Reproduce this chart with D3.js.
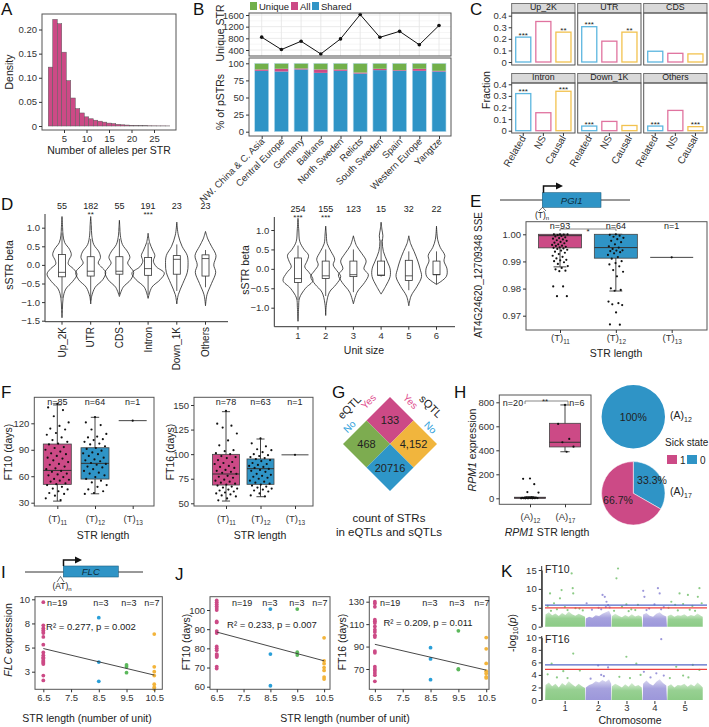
<!DOCTYPE html>
<html>
<head>
<meta charset="utf-8">
<script src="https://cdn.jsdelivr.net/npm/d3@7"></script>
<style>
  body { margin: 0; background: #fff; }
  svg { font-family: "Liberation Sans", Arial, sans-serif; }
</style>
</head>
<body>
<svg id="fig" width="709" height="727"></svg>
<script>
// ---------------- data ----------------
// A: number of alleles per STR
var alleleBins = [2,3,4,5,6,7,8,9,10,11,12,13,14,15,16,17,18,19,20,21,22,23,24,25,26,27,28];
var alleleDensity = [0.122,0.221,0.212,0.153,0.094,0.058,0.036,0.027,0.019,0.015,0.012,0.010,0.008,0.006,0.005,0.0035,0.0025,0.002,0.0015,0.001,0.0008,0.0006,0.0005,0.0004,0.0003,0.0003,0.0002];

// B: pSTRs per population
var regions = ["NW. China & C. Asia","Central Europe","Germany","Balkans","North Sweden","Relicts","South Sweden","Spain","Western Europe","Yangtze"];
var uniqueSTR = [840,415,700,265,780,1615,835,1040,580,1240];
var pctShared = [89,88,91,86,89,85,90,89,89,88];
var pctAll    = [2,4,1.5,5,2,1.5,2,1,3,1];
var pctUnique = [9,8,7.5,9,9,13.5,8,10,8,11];

// C: fraction of STRs per genomic feature
var features = ["Up_2K","UTR","CDS","Intron","Down_1K","Others"];
var strClasses = ["Related","NS","Causal"];
var fracRelated = [0.215,0.305,0.093,0.32,0.04,0.04];
var fracNS      = [0.35,0.18,0.075,0.155,0.08,0.175];
var fracCausal  = [0.258,0.258,0.07,0.34,0.045,0.035];
var starsRelated = ["***","***","","***","***","***"];
var starsCausal  = ["**","**","","***","","***"];

// D: sSTR beta violins (profile = [beta, relative half width])
var featCounts = ["55","182","55","191","23","23"];
var featStars  = ["","**","","***","",""];
var featViolins = [
  [[-1.42,0],[-1.2,0.03],[-0.9,0.07],[-0.65,0.25],[-0.45,0.7],[-0.25,1.0],[-0.1,0.75],[0.02,0.42],[0.12,0.45],[0.27,0.62],[0.42,0.5],[0.6,0.18],[0.8,0.07],[1.0,0.04],[1.3,0]],
  [[-1.05,0],[-0.85,0.06],[-0.6,0.3],[-0.4,0.8],[-0.2,1.0],[-0.05,0.7],[0.05,0.5],[0.2,0.65],[0.35,0.55],[0.55,0.2],[0.8,0.07],[1.05,0.04],[1.3,0]],
  [[-0.85,0],[-0.6,0.25],[-0.4,0.75],[-0.2,0.95],[-0.05,0.7],[0.05,0.55],[0.2,0.7],[0.35,0.55],[0.55,0.2],[0.8,0.06],[1.0,0.03],[1.2,0]],
  [[-0.9,0],[-0.6,0.25],[-0.4,0.8],[-0.22,1.08],[-0.05,0.55],[0.1,0.35],[0.25,0.45],[0.4,0.3],[0.6,0.1],[0.85,0]],
  [[-1.05,0],[-0.8,0.1],[-0.5,0.4],[-0.2,0.7],[0.0,0.75],[0.25,0.7],[0.5,0.35],[0.8,0.1],[1.15,0]],
  [[-1.1,0],[-0.8,0.1],[-0.5,0.4],[-0.2,0.68],[0.0,0.55],[0.25,0.7],[0.5,0.4],[0.7,0.15],[0.9,0]]
];
var featBoxes = [[-0.9,-0.32,-0.2,0.28,0.85],[-0.95,-0.3,-0.17,0.22,0.7],[-0.8,-0.25,-0.17,0.22,0.7],[-0.8,-0.28,-0.1,0.2,0.6],[-0.7,-0.25,0.15,0.25,0.55],[-0.6,-0.3,0.17,0.27,0.4]];

var unitSizes = ["1","2","3","4","5","6"];
var unitCounts = ["254","155","123","15","32","22"];
var unitStars  = ["***","***","","","",""];
var unitViolins = [
  [[-1.35,0],[-1.0,0.04],[-0.75,0.1],[-0.5,0.5],[-0.3,1.0],[-0.1,0.75],[0.05,0.45],[0.2,0.6],[0.35,0.7],[0.5,0.4],[0.7,0.12],[1.0,0.05],[1.3,0]],
  [[-1.2,0],[-0.9,0.05],[-0.6,0.25],[-0.4,0.7],[-0.2,1.0],[-0.05,0.75],[0.1,0.5],[0.25,0.6],[0.45,0.35],[0.65,0.1],[0.9,0.04],[1.1,0]],
  [[-0.9,0],[-0.6,0.25],[-0.35,0.75],[-0.15,1.0],[0.0,0.7],[0.2,0.85],[0.4,0.55],[0.6,0.2],[0.85,0]],
  [[-0.65,0],[-0.45,0.3],[-0.2,0.6],[0.0,0.6],[0.2,0.4],[0.45,0.15],[0.7,0.08],[0.85,0.12],[1.0,0.06],[1.2,0]],
  [[-0.95,0],[-0.7,0.15],[-0.45,0.55],[-0.2,0.85],[0.0,0.75],[0.2,0.6],[0.45,0.35],[0.65,0.12],[0.85,0]],
  [[-0.4,0],[-0.2,0.65],[0.0,0.7],[0.2,0.5],[0.35,0.55],[0.55,0.25],[0.75,0.08],[1.1,0]]
];
var unitBoxes = [[-0.8,-0.35,-0.25,0.28,0.6],[-0.7,-0.25,-0.18,0.2,0.5],[-0.6,-0.2,-0.15,0.2,0.5],[-0.2,-0.17,-0.16,0.2,0.75],[-0.55,-0.3,-0.18,0.22,0.45],[-0.4,-0.15,-0.15,0.2,0.45]];

// E: PGI1 SSE by STR length
var strLens = ["11","12","13"];
var sseN = ["n=93","n=64","n=1"];
var sseBoxes = [[0.9880,0.9950,0.9995,1.0000,1.0000],[0.9791,0.9912,0.9951,1.0000,1.0000],[0.9915,0.9915,0.9915,0.9915,0.9915]];
var sseT11 = [1.0,1.0,0.9999,0.9997,1.0,0.9994,0.9992,0.9989,0.9986,0.9984,0.9981,0.9978,0.9976,0.9972,0.9969,0.9967,0.9963,0.9961,0.9958,0.9957,0.9954,0.9952,0.995,0.9948,0.9946,0.9943,0.994,0.9936,0.9932,0.9927,0.9921,0.9917,0.9911,0.9906,0.9904,0.9901,0.9897,0.9891,0.9883,0.9876,0.9871,0.9866,0.9864,0.9808,0.9808,0.9772,0.9772];
var sseT12 = [1.0,0.9998,0.9995,0.9991,0.9987,0.9982,0.9976,0.9971,0.9963,0.9956,0.9951,0.9946,0.9941,0.994,0.9938,0.9934,0.993,0.9924,0.9916,0.991,0.9901,0.9894,0.9889,0.9882,0.9868,0.9862,0.9845,0.9801,0.9795,0.9792,0.9752,0.9746,0.9742,0.9739,0.9712,0.9668,0.9667];
var sseT13 = [0.9915];

// F: flowering time by STR length
var ft10N = ["n=85","n=64","n=1"];
var ft16N = ["n=78","n=63","n=1"];
var ft10Boxes = [[31.8,50.8,66.6,96.5,140.8],[40.1,56.8,74.6,92.3,126.8],[123,123,123,123,123]];
var ft16Boxes = [[52.3,68.6,79.8,99.8,143.2],[56.7,69.3,85.2,95.1,115.4],[99.3,99.3,99.3,99.3,99.3]];
var ft10T11 = [142,138,135,128,121,117,114,113,109,107,104,101,99,97,96,93,92,90,88,86,85,83,81,80,78,76,74,73,71,69,68,66,65,63,62,61,59,57,56,55,54,52,51,50,48,46,45,43,41,40,38,35,33];
var ft10T12 = [127,121,118,113,108,105,104,102,101,99,97,96,94,92,91,89,87,86,85,83,81,79,78,77,75,74,73,71,70,68,66,64,63,61,59,57,55,53,50,48,45,43,41,40];
var ft10T13 = [123];
var ft16T11 = [144,131,129,127,121,114,109,104,103,101,100,98,97,96,94,92,91,90,88,87,86,84,83,82,81,80,78,77,76,74,73,72,71,70,69,68,67,66,65,64,63,62,61,60,59,58,57,55,53];
var ft16T12 = [116,111,108,105,104,102,100,99,98,97,96,95,94,93,91,90,89,88,87,86,85,84,83,82,80,79,78,77,76,75,73,72,71,70,69,68,67,66,65,64,63,62,60,58,57];
var ft16T13 = [99.3];

// G: STR counts in eQTLs / sQTLs
var qtlLevels = ["Yes","No"];
var qtlCells = [ // [eQTL, sQTL, count, label]
  ["Yes","Yes",133,"133"],["Yes","No",4152,"4,152"],["No","Yes",468,"468"],["No","No",20716,"20716"]
];

// H: RPM1 expression
var rpmLens = ["12","17"];
var rpmN = ["n=20","n=6"];
var rpmBoxes = [[0,0,4,9,14],[388,428,467,625,778]];
var rpmA12 = [165,162,118,52,48,8,6,5,4,4,3,3,2,2,1,1,0,0,0,0];
var rpmA17 = [778,620,495,467,430,388];
var sickA12 = [1, 0];        // share of [state 0, state 1]
var sickA17 = [0.333, 0.667];

// I / J: STR length (units) vs FLC / FT
var unitX = [6.5,8.5,9.5,10.5];
var unitN = ["n=19","n=3","n=3","n=7"];
var flc65  = [9.7,7.3,7.0,6.8,6.6,6.5,6.1,5.3,4.5,4.2,4.0,3.9,3.7,3.6,3.5,3.4,3.3,2.1,1.6];
var flc85  = [8.1,3.5,1.5];
var flc95  = [3.2,3.0,2.4];
var flc105 = [6.4,3.0,2.5,2.1,1.2,0.9,0.7];
var flcFit = [[6.5,4.9],[10.5,2.15]];
var ft10u65  = [105,104,103,102,101,100,94,93.5,89,88,81,80,79,77,76.5,76,75.5,70.5,69.5];
var ft10u85  = [100.5,77,60.5];
var ft10u95  = [100.5,78,76.5];
var ft10u105 = [85.5,73.5,72,70,68.5,65,64];
var ft10Fit = [[6.5,88.5],[10.5,73.5]];
var ft16u65  = [130,128.5,125.5,114,112.5,111,108,105,103,100,98.5,86,84.5,72,70,68.5,66.5,64.5,59];
var ft16u85  = [89,79,60.5];
var ft16u95  = [104,70,69.5];
var ft16u105 = [98,88,75,68,66,63,62];
var ft16Fit = [[6.5,92],[10.5,69]];

// K: Manhattan plots (chromosome lengths in Mb)
var chrLen = [30.4,19.7,23.5,18.6,27.0];
var ft10Band = [
  [3.2,3.8,3.0,3.5,2.8,3.6,3.1,4.0,3.3,2.9,3.4,3.0,2.6],
  [2.2,2.6,2.4,3.0,2.8,3.4,3.8,4.2,3.0],
  [2.8,3.4,2.9,2.5,3.1,2.6,3.3,2.7,3.0,2.6],
  [3.2,3.6,2.9,2.6,3.4,3.8,3.1,2.7],
  [2.8,3.2,2.6,3.0,2.9,3.3,2.7,3.1,2.8,3.5,2.9,2.6]
];
var ft16Band = [
  [2.4,2.8,2.2,2.6,2.0,2.7,2.3,3.0,2.5,2.1,2.6,2.2,1.9],
  [2.0,2.4,2.6,3.0,2.8,3.2,2.9,3.3,2.6],
  [2.2,2.6,2.3,2.0,2.5,2.1,2.7,2.2,2.4,2.0],
  [2.6,3.1,2.6,2.3,2.9,3.3,2.7,2.3],
  [2.2,2.5,2.0,2.4,2.3,2.6,2.1,2.5,2.2,2.8,2.3,2.0]
];
var ft10Hits = [[1,3.8,8.8],[1,6.8,6.2],[1,11.3,7.5],[1,12.5,9.7],[1,20.1,14.1],[1,20.9,10.2],[1,21.3,8.8],[1,2,5.5],[1,15,5.2],[1,26,4.8],
  [1,4.5,4.2],[1,9,4.6],[1,17,4.4],[1,23,4.9],[1,28.5,4.3],
  [2,1.0,6.2],[2,13.0,8.4],[2,14.7,7.9],[2,16.0,6.6],[2,17.2,5.7],[2,5,4.5],[2,10,5.0],[2,18.4,5.1],[2,12,4.6],[2,15.5,5.2],
  [3,3.8,12.8],[3,5.0,15.4],[3,11.3,5.9],[3,8,5.3],[3,15,4.6],[3,20,5.8],[3,2,4.2],[3,13,4.1],[3,18,4.4],
  [4,0.5,9.5],[4,1.4,7.9],[4,11.6,10.2],[4,12.9,8.8],[4,5,4.8],[4,9,5.9],[4,16,5.2],[4,3,4.4],[4,14,4.6],
  [5,3.1,6.6],[5,9.3,8.8],[5,15.6,8.4],[5,23.1,7.9],[5,24.3,10.2],[5,1,5.0],[5,6,5.8],[5,12,6.0],[5,19,5.5],[5,26,6.2],[5,8,4.3],[5,17,4.5],[5,21,4.2]];
var ft16Hits = [[1,5.0,5.8],[1,13.8,4.6],[1,21.3,7.4],[1,26.3,4.7],[1,9,3.6],[1,2,4.1],[1,17,3.5],
  [2,9.7,5.5],[2,17.2,5.2],[2,14,3.8],[2,4,3.4],[2,12,4.0],
  [3,11.3,6.9],[3,18.8,5.8],[3,6,3.7],[3,22,4.0],[3,14,3.5],
  [4,1,4.5],[4,10.4,4.25],[4,14.1,9.7],[4,6,3.6],[4,16,3.9],
  [5,6.8,5.3],[5,19.3,5.6],[5,24.3,4.8],[5,12,3.9],[5,2,3.5],[5,16,3.6]];

// ---------------- helpers ----------------
var svg = d3.select("#fig");
var PINK = "#cc4a86", BLUE = "#2f94c6", GREEN = "#72b04a", YEL = "#f1b53d";
var INK = "#222", TICK = "#333";

function label(x, y, s, opt) {
  opt = opt || {};
  var t = svg.append("text").attr("x", x).attr("y", y)
    .attr("font-size", opt.size || 10.5).attr("fill", opt.fill || INK)
    .attr("text-anchor", opt.anchor || "middle");
  if (opt.rot) t.attr("transform", "rotate(" + opt.rot + "," + x + "," + y + ")");
  if (opt.italic) t.attr("font-style", "italic");
  if (s != null) t.text(s);
  return t;
}
function panelLetter(s, x, y) { label(x, y, s, {size: 17, anchor: "start", fill: "#111"}); }
function frame(x0, y0, x1, y1) {
  svg.append("rect").attr("x", x0).attr("y", y0).attr("width", x1 - x0).attr("height", y1 - y0)
    .attr("fill", "none").attr("stroke", "#555").attr("stroke-width", 1);
}
function tidy(g, keep) {
  g.attr("font-family", null);
  g.selectAll(".tick text").attr("font-size", 9.5).attr("fill", TICK);
  g.selectAll(".tick line").attr("stroke", TICK);
  if (keep) g.select(".domain").attr("stroke", TICK); else g.select(".domain").remove();
  return g;
}
function leftAxis(scale, x, vals, fmt, keep) {
  var ax = d3.axisLeft(scale).tickSize(3).tickSizeOuter(0).tickPadding(2);
  if (vals) ax.tickValues(vals);
  if (fmt) ax.tickFormat(fmt);
  return tidy(svg.append("g").attr("transform", "translate(" + x + ",0)").call(ax), keep);
}
function bottomAxis(scale, y, vals, fmt, keep) {
  var ax = d3.axisBottom(scale).tickSize(3).tickSizeOuter(0).tickPadding(2);
  if (vals) ax.tickValues(vals);
  if (fmt) ax.tickFormat(fmt);
  return tidy(svg.append("g").attr("transform", "translate(0," + y + ")").call(ax), keep);
}
function subTicks(g, base, pad) {
  g.selectAll(".tick text").each(function (d) {
    var t = d3.select(this).text(null).attr("y", pad || 8);
    t.append("tspan").text(base);
    t.append("tspan").attr("font-size", 6.5).attr("dy", 3).text(d);
  });
}
function hline(x1, x2, y, col, w) {
  svg.append("line").attr("x1", x1).attr("x2", x2).attr("y1", y).attr("y2", y)
    .attr("stroke", col || "#444").attr("stroke-width", w || 1);
}
function vline(x, y1, y2, col, w) {
  svg.append("line").attr("x1", x).attr("x2", x).attr("y1", y1).attr("y2", y2)
    .attr("stroke", col || "#444").attr("stroke-width", w || 1);
}
// deterministic jitter offset (layout only), first point centred
function jit(i, w) { return ((((i * 0.618034) + 0.5) % 1) - 0.5) * w; }

// boxplot with error-bar caps and jittered points
function boxGroup(xs, ys, cats, stats, fills, bw, pts, jw) {
  cats.forEach(function (c, i) {
    var s = stats[i], cx = xs(c);
    if (s[1] === s[3]) {           // single observation
      hline(cx - bw / 2, cx + bw / 2, ys(s[2]), "#444");
    } else {
      vline(cx, ys(s[0]), ys(s[4]), "#444");
      hline(cx - bw * 0.15, cx + bw * 0.15, ys(s[0]), "#444");
      hline(cx - bw * 0.15, cx + bw * 0.15, ys(s[4]), "#444");
      svg.append("rect").attr("x", cx - bw / 2).attr("width", bw)
        .attr("y", ys(s[3])).attr("height", Math.max(0.8, ys(s[1]) - ys(s[3])))
        .attr("fill", fills[i]).attr("stroke", "#444").attr("stroke-width", 0.8);
      hline(cx - bw / 2, cx + bw / 2, ys(s[2]), "#333", 1);
    }
    svg.append("g").selectAll("circle").data(pts[i]).enter().append("circle")
      .attr("cx", function (d, k) { return cx + jit(k, jw); })
      .attr("cy", function (d) { return ys(d); })
      .attr("r", 1.1).attr("fill", "#111");
  });
}

// ---------------- A ----------------
panelLetter("A", 1, 15);
var aX = d3.scaleLinear().domain([0, 30]).range([41.5, 176.5]);
var aY = d3.scaleLinear().domain([0, 0.2]).range([126, 29.5]);
svg.append("g").selectAll("rect").data(alleleBins).enter().append("rect")
  .attr("x", function (d) { return aX(d - 0.5); }).attr("width", aX(1) - aX(0))
  .attr("y", function (d, i) { return aY(alleleDensity[i]); })
  .attr("height", function (d, i) { return aY(0) - aY(alleleDensity[i]); })
  .attr("fill", PINK).attr("stroke", "#5a5a5a").attr("stroke-width", 0.5);
frame(42, 14, 176, 130);
leftAxis(aY, 42, [0, 0.05, 0.1, 0.15, 0.2], function (d) { return d === 0 ? "0" : d.toFixed(2); });
bottomAxis(aX, 130, [5, 10, 15, 20, 25]);
label(13, 72, "Density", {rot: -90});
label(109, 154, "Number of alleles per STR");

// ---------------- B ----------------
panelLetter("B", 193, 15);
var bX = d3.scalePoint().domain(regions).range([261.7, 439]);
var bYt = d3.scaleLinear().domain([400, 1600]).range([50, 15]);
var bYb = d3.scaleLinear().domain([0, 100]).range([131.7, 63.3]);
// top: grid + line
var gridT = svg.append("g");
[200, 600, 1000, 1400].forEach(function (v) { gridT.append("line").attr("x1", 249).attr("x2", 451).attr("y1", bYt(v)).attr("y2", bYt(v)).attr("stroke", "#f0f0f0").attr("stroke-width", 0.6); });
[400, 800, 1200, 1600].forEach(function (v) { gridT.append("line").attr("x1", 249).attr("x2", 451).attr("y1", bYt(v)).attr("y2", bYt(v)).attr("stroke", "#e4e4e4").attr("stroke-width", 0.8); });
regions.forEach(function (r) { gridT.append("line").attr("x1", bX(r)).attr("x2", bX(r)).attr("y1", 13).attr("y2", 56).attr("stroke", "#e4e4e4").attr("stroke-width", 0.8); });
svg.append("path").datum(uniqueSTR)
  .attr("d", d3.line().x(function (d, i) { return bX(regions[i]); }).y(function (d) { return bYt(d); }))
  .attr("fill", "none").attr("stroke", "#111").attr("stroke-width", 1);
svg.append("g").selectAll("circle").data(uniqueSTR).enter().append("circle")
  .attr("cx", function (d, i) { return bX(regions[i]); }).attr("cy", function (d) { return bYt(d); })
  .attr("r", 1.8).attr("fill", "#111");
frame(249, 13, 451, 56);
leftAxis(bYt, 249, [400, 800, 1200, 1600], d3.format("d"));
// bottom: stacked bars
var bw = 14;
regions.forEach(function (r, i) {
  var segs = [[0, pctShared[i], BLUE], [pctShared[i], pctShared[i] + pctAll[i], PINK], [pctShared[i] + pctAll[i], 100, GREEN]];
  segs.forEach(function (s) {
    svg.append("rect").attr("x", bX(r) - bw / 2).attr("width", bw)
      .attr("y", bYb(s[1])).attr("height", bYb(s[0]) - bYb(s[1])).attr("fill", s[2]);
  });
  svg.append("rect").attr("x", bX(r) - bw / 2).attr("width", bw).attr("y", bYb(100)).attr("height", bYb(0) - bYb(100))
    .attr("fill", "none").attr("stroke", "#b9dcec").attr("stroke-width", 0.6);
});
frame(249, 58, 451, 136);
leftAxis(bYb, 249, [0, 25, 50, 75, 100]);
var bxa = bottomAxis(bX, 136);
bxa.selectAll(".tick text").attr("text-anchor", "end").attr("dy", null).attr("y", 0)
  .attr("transform", "translate(3,6) rotate(-45)");
label(224, 33, "Unique STR", {rot: -90});
label(224, 102, "% of pSTRs", {rot: -90});
var legItems = [["Unique", GREEN, 250], ["All", PINK, 291], ["Shared", BLUE, 312]];
legItems.forEach(function (l) {
  svg.append("rect").attr("x", l[2]).attr("y", 2).attr("width", 7).attr("height", 8).attr("fill", l[1]);
  label(l[2] + 9, 10, l[0], {size: 9.5, anchor: "start"});
});

// ---------------- C ----------------
panelLetter("C", 470, 15);
var cCols = [[511.7, 575], [577.7, 641], [643.7, 707]];
var cRows = [[3.5, 13, 65, 62, 15.7], [73.5, 83, 133, 130.7, 84.3]];
var cColor = {Related: "#5cb6df", NS: "#e0739f", Causal: "#f2c24f"};
features.forEach(function (f, i) {
  var col = cCols[i % 3], row = cRows[Math.floor(i / 3)];
  var cx = d3.scaleBand().domain(strClasses).range(col).paddingInner(0.25).paddingOuter(0.2);
  var cy = d3.scaleLinear().domain([0, 0.4]).range([row[3], row[4]]);
  var vals = [fracRelated[i], fracNS[i], fracCausal[i]];
  var stars = [starsRelated[i], "", starsCausal[i]];
  svg.append("rect").attr("x", col[0]).attr("y", row[0]).attr("width", col[1] - col[0]).attr("height", row[1] - row[0])
    .attr("fill", "#d9d9d9").attr("stroke", "#555").attr("stroke-width", 0.8);
  strClasses.forEach(function (c, k) {
    svg.append("rect").attr("x", cx(c)).attr("width", cx.bandwidth())
      .attr("y", cy(vals[k])).attr("height", cy(0) - cy(vals[k]))
      .attr("fill", "#fff").attr("stroke", cColor[c]).attr("stroke-width", 1.3);
    if (stars[k]) label(cx(c) + cx.bandwidth() / 2, cy(vals[k]) + 0.5, stars[k], {size: 8});
  });
  frame(col[0], row[1], col[1], row[2]);
  label((col[0] + col[1]) / 2, row[1] - 2.8, f, {size: 8.8});
  if (i % 3 === 0) leftAxis(cy, col[0], [0, 0.1, 0.2, 0.3, 0.4], function (d) { return d === 0 ? "0" : d.toFixed(1); });
  if (i >= 3) {
    var g = bottomAxis(cx, row[2]);
    g.selectAll(".tick text").attr("text-anchor", "end").attr("dy", null).attr("y", 0)
      .attr("font-size", 10).attr("transform", "translate(3,5) rotate(-60)");
  }
});
label(490, 90, "Fraction", {rot: -90});

// ---------------- D ----------------
panelLetter("D", 1, 210);
function violinPanel(cats, profiles, boxes, counts, stars, xr, yDom, yRange, axisX, axisBottom, axisTop, axisRight, yTicks) {
  var vx = d3.scalePoint().domain(cats).range(xr);
  var vy = d3.scaleLinear().domain(yDom).range(yRange);
  var hw = 15;
  cats.forEach(function (c, i) {
    var cx = vx(c);
    var area = d3.area().curve(d3.curveCatmullRom)
      .y(function (d) { return vy(d[0]); })
      .x0(function (d) { return cx - d[1] * hw; })
      .x1(function (d) { return cx + d[1] * hw; });
    svg.append("path").datum(profiles[i]).attr("d", area)
      .attr("fill", "none").attr("stroke", "#222").attr("stroke-width", 0.8);
    var b = boxes[i];
    vline(cx, vy(b[0]), vy(b[4]), "#333", 0.8);
    svg.append("rect").attr("x", cx - 3.5).attr("width", 7).attr("y", vy(b[3])).attr("height", vy(b[1]) - vy(b[3]))
      .attr("fill", "#fff").attr("stroke", "#333").attr("stroke-width", 0.8);
    hline(cx - 3.5, cx + 3.5, vy(b[2]), "#333", 0.8);
    label(cx, axisTop - 3, counts[i], {size: 9});
    if (stars[i]) label(cx, axisTop + 5, stars[i], {size: 8});
  });
  var ga = leftAxis(vy, axisX, yTicks, d3.format(".1f"));
  ga.selectAll(".tick text").text(function (d) { return d3.format(".1f")(d).replace("-", "\u2212"); });
  vline(axisX, axisTop + 2, axisBottom, "#333");
  hline(axisX, axisRight, axisBottom, "#333");
  return vx;
}
var dx1 = violinPanel(features, featViolins, featBoxes, featCounts, featStars, [62, 205.5],
  [-1.5, 1.0], [320.7, 227.7], 45, 321.7, 212, 228, [-1.5, -1.0, -0.5, 0, 0.5, 1.0]);
features.forEach(function (f) {
  vline(dx1(f), 321.7, 324.7, "#333");
  label(dx1(f) + 3.5, 327, f, {size: 10, anchor: "end", rot: -90});
});
label(13, 265, "sSTR beta", {rot: -90});

var dx2 = violinPanel(unitSizes, unitViolins, unitBoxes, unitCounts, unitStars, [298, 436.5],
  [-1.0, 1.0], [307.7, 230], 274.3, 326.7, 215, 455, [-1.0, -0.5, 0, 0.5, 1.0]);
unitSizes.forEach(function (u) {
  vline(dx2(u), 326.7, 329.7, "#333");
  label(dx2(u), 339, u, {size: 9.5, fill: TICK});
});
label(249, 270, "sSTR beta", {rot: -90});
label(364, 354, "Unit size");

// ---------------- E ----------------
panelLetter("E", 470, 207);
hline(500, 630, 200, "#333");
svg.append("rect").attr("x", 542.3).attr("y", 192.7).attr("width", 58.7).attr("height", 14.6).attr("fill", BLUE).attr("stroke", "#1d5f80").attr("stroke-width", 0.6);
label(571.7, 203.5, "PGI1", {size: 9.5, italic: true, fill: "#0d2f40"});
svg.append("path").attr("d", "M543.5,192.7 V186 H557").attr("fill", "none").attr("stroke", "#111").attr("stroke-width", 1.5);
svg.append("path").attr("d", "M556,182.5 L563,186 L556,189.5 Z").attr("fill", "#111");
svg.append("path").attr("d", "M539,211 L542.5,207.3 L546,211").attr("fill", "none").attr("stroke", "#333").attr("stroke-width", 0.7);
var tn = label(542, 218, null, {size: 8.5});
tn.append("tspan").text("(T)"); tn.append("tspan").attr("font-size", 6).attr("dy", 2).text("n");

var eX = d3.scalePoint().domain(strLens).range([560, 671.7]);
var eY = d3.scaleLinear().domain([0.97, 1.0]).range([315.7, 234.3]);
boxGroup(eX, eY, strLens, sseBoxes, [PINK, BLUE, "none"], 43, [sseT11, sseT12, sseT13], 16);
frame(526, 221.7, 707, 330);
leftAxis(eY, 526, [0.97, 0.98, 0.99, 1.0], d3.format(".2f"));
subTicks(bottomAxis(eX, 330), "(T)", 4);
strLens.forEach(function (s, i) { label(eX(s), 228.5, sseN[i], {size: 9}); });
svg.append("path").attr("d", "M560,231 V229 H616 V231").attr("fill", "none").attr("stroke", "#555").attr("stroke-width", 0.7);
label(588, 234, "*", {size: 8});
label(482, 275, "AT4G24620_12709348 SSE", {size: 10, rot: -90});
label(616, 357, "STR length");

// ---------------- F ----------------
panelLetter("F", 1, 398);
var fX1 = d3.scalePoint().domain(strLens).range([57.3, 132.7]);
var fY1 = d3.scaleLinear().domain([30, 120]).range([502.7, 423.3]);
boxGroup(fX1, fY1, strLens, ft10Boxes, [PINK, BLUE, "none"], 28, [ft10T11, ft10T12, ft10T13], 24);
frame(34.3, 397.3, 154, 506);
leftAxis(fY1, 34.3, [30, 60, 90, 120]);
subTicks(bottomAxis(fX1, 506), "(T)", 9);
strLens.forEach(function (s, i) { label(fX1(s), 404.5, ft10N[i], {size: 9}); });
label(12, 452, "FT10 (days)", {rot: -90});
label(103, 539, "STR length");

var fX2 = d3.scalePoint().domain(strLens).range([226, 295]);
var fY2 = d3.scaleLinear().domain([50, 150]).range([503.3, 405]);
boxGroup(fX2, fY2, strLens, ft16Boxes, [PINK, BLUE, "none"], 27, [ft16T11, ft16T12, ft16T13], 23);
frame(194, 397.3, 313, 506);
leftAxis(fY2, 194, [50, 75, 100, 125, 150]);
subTicks(bottomAxis(fX2, 506), "(T)", 9);
strLens.forEach(function (s, i) { label(fX2(s), 404.5, ft16N[i], {size: 9}); });
label(174, 452, "FT16 (days)", {rot: -90});
label(260, 539, "STR length");

// ---------------- G ----------------
panelLetter("G", 332, 398);
var gU = d3.scaleBand().domain(qtlLevels).range([-33.25, 33.25]);  // sQTL
var gV = d3.scaleBand().domain(qtlLevels).range([-33.25, 33.25]);  // eQTL
var gColor = {"YesYes": PINK, "YesNo": YEL, "NoYes": "#7dac50", "NoNo": "#2e96c8"};
var gG = svg.append("g").attr("transform", "translate(390,444) rotate(45)");
qtlCells.forEach(function (c) {
  gG.append("rect").attr("x", gU(c[1])).attr("y", gV(c[0])).attr("width", gU.bandwidth()).attr("height", gV.bandwidth())
    .attr("fill", gColor[c[0] + c[1]]);
  var u = gU(c[1]) + gU.bandwidth() / 2, v = gV(c[0]) + gV.bandwidth() / 2;
  var sx = 390 + (u - v) / Math.SQRT2, sy = 444 + (u + v) / Math.SQRT2;
  label(sx, sy + 4, c[3], {size: 11, fill: "#222"});
});
label(352, 410, "eQTL", {size: 11, rot: -45});
label(371, 404, "Yes", {size: 10, rot: -45, fill: "#e0508f"});
label(352, 429, "No", {size: 10, rot: -45, fill: "#34a3dc"});
label(428, 409, "sQTL", {size: 11, rot: 45});
label(408, 404, "Yes", {size: 10, rot: 45, fill: "#e0508f"});
label(428, 430, "No", {size: 10, rot: 45, fill: "#34a3dc"});
label(389, 522, "count of STRs", {size: 11.5});
label(389, 536, "in eQTLs and sQTLs", {size: 11.5});

// ---------------- H ----------------
panelLetter("H", 454, 398);
var hX = d3.scalePoint().domain(rpmLens).range([530, 565]);
var hY = d3.scaleLinear().domain([0, 800]).range([498.3, 402.3]);
boxGroup(hX, hY, rpmLens, rpmBoxes, [PINK, PINK], 31, [rpmA12, rpmA17], 18);
frame(499.3, 395, 591, 504.3);
leftAxis(hY, 499.3, [0, 200, 400, 600, 800]);
subTicks(bottomAxis(hX, 504.3), "(A)", 9);
rpmLens.forEach(function (s, i) { label(i === 0 ? 513 : 577, 406, rpmN[i], {size: 9}); });
svg.append("path").attr("d", "M525,404 V401 H568 V404").attr("fill", "none").attr("stroke", "#555").attr("stroke-width", 0.7);
label(545, 404, "**", {size: 8});
var hyl = label(476, 450, null, {rot: -90});
hyl.append("tspan").attr("font-style", "italic").text("RPM1");
hyl.append("tspan").text(" expression");
var hxl = label(547, 536, null);
hxl.append("tspan").attr("font-style", "italic").text("RPM1");
hxl.append("tspan").text(" STR length");

var pie = d3.pie().sort(null).value(function (d) { return d; });
var arc = d3.arc().innerRadius(0).outerRadius(31.7);
var pieCols = [BLUE, PINK];
[[sickA12, 416.7], [sickA17, 493.3]].forEach(function (p) {
  var g = svg.append("g").attr("transform", "translate(633.3," + p[1] + ")");
  g.selectAll("path").data(pie(p[0])).enter().append("path").attr("d", arc)
    .attr("fill", function (d, i) { return pieCols[i]; })
    .attr("stroke", function (d) { return d.data > 0 && d.data < 1 ? "#fff" : "none"; }).attr("stroke-width", 0.5);
});
label(633.3, 420.5, "100%", {size: 10.5});
label(652, 484, "33.3%", {size: 10.5});
label(618, 504, "66.7%", {size: 10.5});
var a12 = label(670, 419, null, {size: 10.5, anchor: "start"});
a12.append("tspan").text("(A)"); a12.append("tspan").attr("font-size", 7).attr("dy", 3).text("12");
var a17 = label(670, 495, null, {size: 10.5, anchor: "start"});
a17.append("tspan").text("(A)"); a17.append("tspan").attr("font-size", 7).attr("dy", 3).text("17");
label(665, 446, "Sick state", {size: 10, anchor: "start"});
svg.append("rect").attr("x", 667).attr("y", 455).attr("width", 10).attr("height", 9).attr("fill", PINK);
label(680, 463.5, "1", {size: 10, anchor: "start"});
svg.append("rect").attr("x", 687).attr("y", 455).attr("width", 10).attr("height", 9).attr("fill", BLUE);
label(700, 463.5, "0", {size: 10, anchor: "start"});

// ---------------- I ----------------
panelLetter("I", 1, 578);
hline(25, 143, 572, "#333");
svg.append("rect").attr("x", 63.3).attr("y", 566).attr("width", 55).attr("height", 11).attr("fill", BLUE).attr("stroke", "#1d5f80").attr("stroke-width", 0.6);
label(90.8, 575, "FLC", {size: 9.5, italic: true, fill: "#0d2f40"});
svg.append("path").attr("d", "M63.5,566 V560 H76").attr("fill", "none").attr("stroke", "#111").attr("stroke-width", 1.5);
svg.append("path").attr("d", "M75,556.5 L82,560 L75,563.5 Z").attr("fill", "#111");
svg.append("path").attr("d", "M57,582 L60.5,576.5 L64,582").attr("fill", "none").attr("stroke", "#333").attr("stroke-width", 0.7);
var atn = label(62, 589, null, {size: 8.5});
atn.append("tspan").text("(AT)"); atn.append("tspan").attr("font-size", 6).attr("dy", 2).text("n");

var unitCols = [PINK, "#2a9fd8", "#5cb85c", "#f3b43a"];
function scatterPanel(x0, x1, xDomain, yScale, groups, fit, nx, rText, rx, ry, yTicks) {
  var sx = d3.scaleLinear().domain(xDomain).range([x0, x1]);
  groups.forEach(function (g, gi) {
    svg.append("g").selectAll("circle").data(g).enter().append("circle")
      .attr("cx", sx(unitX[gi])).attr("cy", function (d) { return yScale(d); })
      .attr("r", 1.9).attr("fill", unitCols[gi]);
  });
  svg.append("path").datum(fit).attr("d", d3.line().x(function (d) { return sx(d[0]); }).y(function (d) { return yScale(d[1]); }))
    .attr("stroke", "#333").attr("stroke-width", 0.9).attr("fill", "none");
  frame(x0, 596.7, x1, 689.3);
  leftAxis(yScale, x0, yTicks);
  bottomAxis(sx, 689.3, [6.5, 7.5, 8.5, 9.5, 10.5], d3.format(".1f"));
  unitN.forEach(function (n, i) { label(nx[i], 605.5, n, {size: 9, anchor: i === 0 ? "start" : "middle"}); });
  label(rx, ry, rText, {size: 9.5, anchor: "middle"});
  return sx;
}
var iY = d3.scaleLinear().domain([2.5, 10]).range([671.7, 599.3]);
scatterPanel(35, 162.3, [6.2, 10.79], iY, [flc65, flc85, flc95, flc105], flcFit,
  [47, 101, 129, 152], "R\u00b2 = 0.277, p = 0.002", 91, 630, [2.5, 5.0, 7.5, 10.0]);
var iyl = label(12, 640, null, {rot: -90});
iyl.append("tspan").attr("font-style", "italic").text("FLC");
iyl.append("tspan").text(" expression");
label(87, 722, "STR length (number of unit)");

// ---------------- J ----------------
panelLetter("J", 175, 580);
var jY1 = d3.scaleLinear().domain([60, 100]).range([686.7, 610]);
scatterPanel(210, 330, [6.25, 10.72], jY1, [ft10u65, ft10u85, ft10u95, ft10u105], ft10Fit,
  [232, 270, 297, 320], "R\u00b2 = 0.233, p = 0.007", 272, 628, [60, 70, 80, 90, 100]);
label(190, 642, "FT10 (days)", {rot: -90});
var jY2 = d3.scaleLinear().domain([70, 130]).range([669, 601.7]);
scatterPanel(369.3, 489, [6.3, 10.6], jY2, [ft16u65, ft16u85, ft16u95, ft16u105], ft16Fit,
  [380, 430, 457, 482], "R\u00b2 = 0.209, p = 0.011", 428, 626, [70, 90, 110, 130]);
label(346, 642, "FT16 (days)", {rot: -90});
label(345, 722, "STR length (number of unit)");

// ---------------- K ----------------
panelLetter("K", 501, 577);
var chrStart = [0];
chrLen.forEach(function (l, i) { chrStart.push(chrStart[i] + l); });
var kX = d3.scaleLinear().domain([0, chrStart[5]]).range([545, 703]);
var chrCol = ["#8ccb86", "#9c97da", "#8ccb86", "#9c97da", "#8ccb86"];
var defs = svg.append("defs");
chrCol.forEach(function (c, i) {
  var gr = defs.append("linearGradient").attr("id", "kg" + i).attr("x1", 0).attr("x2", 0).attr("y1", 1).attr("y2", 0);
  gr.append("stop").attr("offset", "0%").attr("stop-color", c).attr("stop-opacity", 1);
  gr.append("stop").attr("offset", "55%").attr("stop-color", c).attr("stop-opacity", 0.9);
  gr.append("stop").attr("offset", "100%").attr("stop-color", c).attr("stop-opacity", 0.35);
});
function manhattan(band, hits, ky, blueY, redY, top, ticks, name) {
  band.forEach(function (hs, c) {
    var pts = hs.map(function (h, k) { return [Math.min(chrStart[c] + k * 2.5 + 0.4, chrStart[c + 1] - 0.2), h]; });
    pts.unshift([chrStart[c] + 0.1, 0]); pts.push([chrStart[c + 1] - 0.2, 0]);
    svg.append("path").datum(pts)
      .attr("d", d3.area().x(function (d) { return kX(d[0]); }).y0(ky(0)).y1(function (d) { return ky(d[1]); }))
      .attr("fill", "url(#kg" + c + ")");
  });
  svg.append("g").selectAll("circle").data(hits).enter().append("circle")
    .attr("cx", function (d) { return kX(chrStart[d[0] - 1] + d[1]); })
    .attr("cy", function (d) { return ky(d[2]); })
    .attr("r", 1.1).attr("fill", function (d) { return chrCol[d[0] - 1]; });
  hline(545, 707, ky(blueY), "#5568c8", 1.3);
  hline(545, 707, ky(redY), "#ee4040", 1.3);
  leftAxis(ky, 541.7, ticks, null, true);
  vline(541.7, top, ky(0), TICK);
  label(545, top + 7, name, {size: 10.5, anchor: "start"});
}
var kY1 = d3.scaleLinear().domain([0, 15]).range([626.7, 570]);
manhattan(ft10Band, ft10Hits, kY1, 5.7, 5.0, 566, [0, 5, 10, 15], "FT10");
var kY2 = d3.scaleLinear().domain([0, 10]).range([700, 637.3]);
manhattan(ft16Band, ft16Hits, kY2, 5.6, 4.9, 636, [0, 2, 4, 6, 8, 10], "FT16");
var chrNames = ["1", "2", "3", "4", "5"];
chrNames.forEach(function (c, i) {
  var cx = kX((chrStart[i] + chrStart[i + 1]) / 2);
  vline(cx, 701, 704, TICK);
  label(cx, 711, c, {size: 9.5, fill: TICK});
});
var kyl = label(516, 633, null, {rot: -90});
kyl.append("tspan").text("-log");
kyl.append("tspan").attr("font-size", 7).attr("dy", 2).text("10");
kyl.append("tspan").attr("dy", -2).text("(");
kyl.append("tspan").attr("font-style", "italic").text("p");
kyl.append("tspan").text(")");
label(630, 724, "Chromosome");
</script>
</body>
</html>
